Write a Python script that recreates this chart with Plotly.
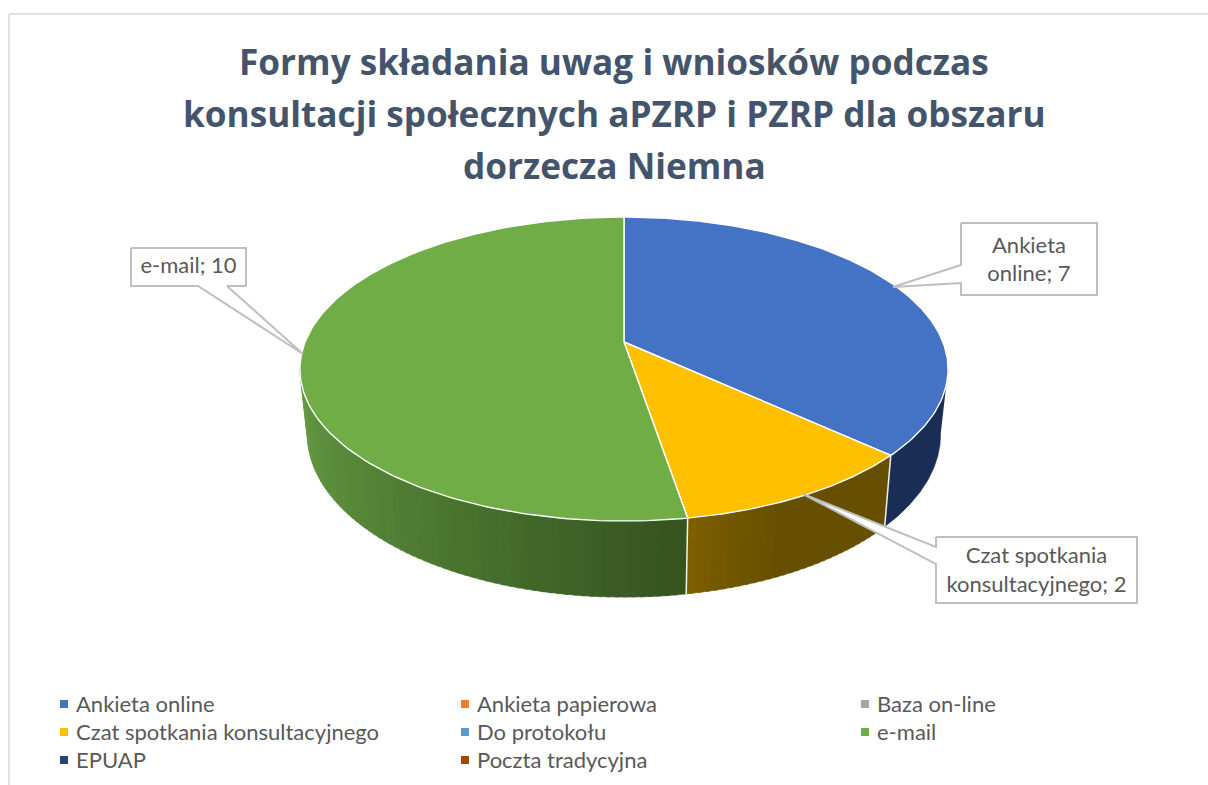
import numpy as np
import plotly.graph_objects as go

W, H = 1208, 785
CATEGORIES = ["Ankieta online", "Ankieta papierowa", "Baza on-line",
              "Czat spotkania konsultacyjnego", "Do protokołu", "e-mail",
              "EPUAP", "Poczta tradycyjna"]
VALUES = [7, 0, 0, 2, 0, 10, 0, 0]
COLORS = ["#4472c4", "#ed7d31", "#a5a5a5", "#ffc000", "#5b9bd5", "#70ad47", "#264478", "#9e480e"]
TITLE_LINES = ["Formy składania uwag i wniosków podczas",
               "konsultacji społecznych aPZRP i PZRP dla obszaru",
               "dorzecza Niemna"]
# (position along the wall 0-1, colour) for the visible slices
WALL_STOPS = {
    0: [(0, "#1a2d54"), (1, "#1a2d54")],
    3: [(0, "#665000"), (0.6, "#665000"), (0.85, "#735800"), (1, "#806000")],
    5: [(0, "#35541f"), (0.15, "#3c5f25"), (0.4, "#4a742e"), (0.6, "#558438"), (1, "#689c43")],
}
WALL_STRIPS = {0: 1, 3: 30, 5: 70}
TEXT_GREY = "#595959"
BORDER = "#bfbfbf"

CX, AY, A, B, K = 624.0, 342.0, 318.9, 147.2, 0.178
AY2, SX2, SY2 = 405.5, 0.977, 1.07


def top_pt(t):
    u, v = np.sin(t), np.cos(t)
    w = 1 + K * v
    return CX + A * u / w, AY - B * v / w


def bot_pt(t):
    u, v = np.sin(t), np.cos(t)
    w = 1 + K * v
    return CX + SX2 * A * u / w, AY2 - SY2 * B * v / w


def hex_rgb(c):
    return np.array([int(c[i:i + 2], 16) for i in (1, 3, 5)], float)


def ramp(stops, f):
    for (a, ca), (b, cb) in zip(stops, stops[1:]):
        if f <= b:
            m = (f - a) / max(b - a, 1e-9)
            r = hex_rgb(ca) * (1 - m) + hex_rgb(cb) * m
            return "rgb(%d,%d,%d)" % tuple(r)
    return stops[-1][1]


fig = go.Figure()
total = sum(VALUES)
edges = np.concatenate([[0], np.cumsum(VALUES)]) / total * 2 * np.pi
# the wall is visible between the two points where the rim is widest on screen
FRONT_A = np.arccos(-K)
FRONT_B = 2 * np.pi - FRONT_A

# walls
seams = []
for i, c in enumerate(COLORS):
    if VALUES[i] == 0:
        continue
    a0, a1 = max(edges[i], FRONT_A), min(edges[i + 1], FRONT_B)
    if a1 <= a0:
        continue
    n = WALL_STRIPS[i]
    ts = np.linspace(a0, a1, n + 1)
    for j in range(n):
        t = np.linspace(ts[j], ts[j + 1] + (0.012 if j < n - 1 else 0), max(5, 120 // n))
        xt, yt = top_pt(t)
        xb, yb = bot_pt(t[::-1])
        fcol = ramp(WALL_STOPS[i], (j + .5) / n)
        fig.add_trace(go.Scatter(x=list(xt) + list(xb), y=list(yt) + list(yb), mode="lines",
                                 fill="toself", fillcolor=fcol, line=dict(width=0.5, color=fcol),
                                 hoverinfo="skip", showlegend=False))
    if edges[i + 1] < FRONT_B:
        seams.append(edges[i + 1])

# seams between wall pieces
for s in seams:
    xt, yt = top_pt(s)
    xb, yb = bot_pt(s)
    fig.add_trace(go.Scatter(x=[xt, xb], y=[yt, yb], mode="lines", line=dict(color="#f2f2e6", width=1.5),
                             hoverinfo="skip", showlegend=False))

# top faces
for i, c in enumerate(COLORS):
    if VALUES[i] == 0:
        continue
    t = np.linspace(edges[i], edges[i + 1], 160)
    x, y = top_pt(t)
    fig.add_trace(go.Scatter(x=[CX] + list(x) + [CX], y=[AY] + list(y) + [AY], mode="lines",
                             fill="toself", fillcolor=c, line=dict(color="#ffffff", width=1.4),
                             name=CATEGORIES[i], text=[f"{CATEGORIES[i]}: {VALUES[i]}"] * 162,
                             hoverinfo="text", showlegend=False))

# callouts (outline including pointer), labels
CALLOUTS = [
    ([961, 1097, 1097, 961, 961, 893, 961, 961], [223, 223, 295, 295, 283, 287, 265, 223],
     [(1029, 247, "Ankieta"), (1029, 275, "online; 7")]),
    ([131, 246, 246, 227, 303, 198, 131, 131], [248, 248, 286, 286, 354, 286, 286, 248],
     [(188.5, 267, "e-mail; 10")]),
    ([936, 1137, 1137, 936, 936, 803, 936, 936], [537, 537, 603, 603, 564, 494, 547, 537],
     [(1036.5, 557, "Czat spotkania"), (1036.5, 586, "konsultacyjnego; 2")]),
]
for xs, ys, labs in CALLOUTS:
    fig.add_trace(go.Scatter(x=xs, y=ys, mode="lines", fill="toself", fillcolor="#ffffff",
                             line=dict(color=BORDER, width=2), hoverinfo="skip", showlegend=False))
    fig.add_trace(go.Scatter(x=[l[0] for l in labs], y=[l[1] for l in labs], text=[l[2] for l in labs],
                             mode="text", textposition="middle center",
                             textfont=dict(family="Lato", size=22, color=TEXT_GREY),
                             hoverinfo="skip", showlegend=False))

# legend in three columns
LEG_X = [61, 462, 862]
LEG_Y = [703, 731, 759]
for i, cat in enumerate(CATEGORIES):
    r, col = divmod(i, 3)
    fig.add_trace(go.Scatter(x=[LEG_X[col] + 3], y=[LEG_Y[r] + 1], mode="markers", name=cat,
                             marker=dict(symbol="square", size=8, color=COLORS[i]),
                             hoverinfo="name", showlegend=False))
    fig.add_annotation(x=LEG_X[col] + 13, y=LEG_Y[r], text=cat, showarrow=False, xanchor="left",
                       yanchor="middle", font=dict(family="Lato", size=22, color=TEXT_GREY))

# title
for line, y in zip(TITLE_LINES, [61, 113, 165]):
    fig.add_annotation(x=614, y=y, text=f"<b>{line}</b>", showarrow=False, xanchor="center", yanchor="middle",
                       font=dict(family="Open Sans", size=35.2, color="#44546a"))

# chart frame
fig.add_shape(type="line", x0=9, x1=9, y0=14, y1=H, line=dict(color="#d9d9d9", width=1.5))
fig.add_shape(type="line", x0=9, x1=W, y0=14, y1=14, line=dict(color="#d9d9d9", width=1.5))

fig.update_layout(width=W, height=H, margin=dict(l=0, r=0, t=0, b=0), autosize=False,
                  paper_bgcolor="white", plot_bgcolor="white",
                  xaxis=dict(range=[0, W], visible=False, fixedrange=True),
                  yaxis=dict(range=[H, 0], visible=False, fixedrange=True))
fig.write_html("out.html", config={"displayModeBar": False},
               post_script="document.body.style.margin='0';document.body.style.overflow='hidden';")
